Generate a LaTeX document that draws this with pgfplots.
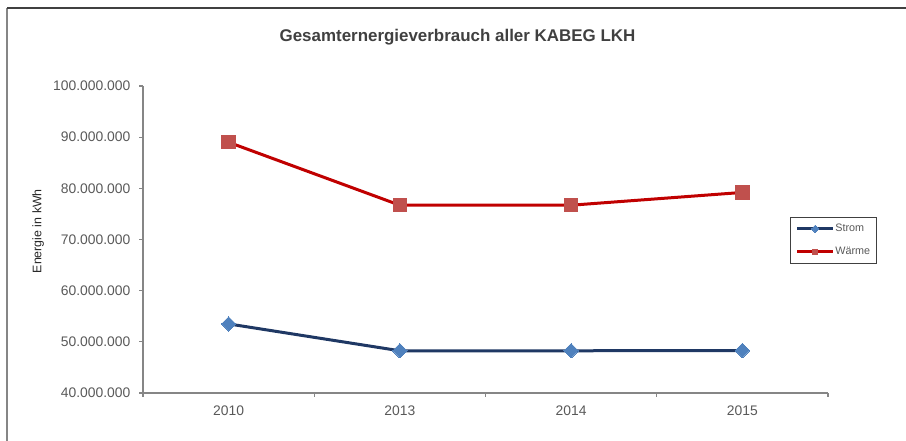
\documentclass[border=0pt]{standalone}
\usepackage{fontspec}
\setmainfont{Liberation Sans}
\usepackage{pgfplots}
\pgfplotsset{compat=1.18}
\definecolor{stromline}{HTML}{1F3864}
\definecolor{strommark}{HTML}{4F81BD}
\definecolor{waermeline}{HTML}{C00000}
\definecolor{waermemark}{HTML}{C0504D}
\definecolor{txt}{HTML}{595959}
\definecolor{titlec}{HTML}{404040}
\definecolor{axisgray}{HTML}{868686}
\begin{document}
\begin{tikzpicture}[x=0.75pt,y=0.75pt]
\useasboundingbox (0,0) rectangle (906,441);
\draw[color=axisgray, line width=1.3pt] (7,-10) -- (7,433);
\draw[color=titlec, line width=1.3pt] (7,433) -- (920,433);
\node[font=\bfseries\fontsize{12.7}{15}\selectfont, text=titlec] at (457.5,404) {Gesamternergieverbrauch aller KABEG LKH};
\begin{axis}[
  at={(107.25pt,36pt)}, anchor=south west,
  scale only axis,
  width=513.75pt, height=230.25pt,
  xmin=-0.5, xmax=3.5,
  ymin=40000000, ymax=100000000,
  axis x line=bottom, axis y line=left,
  axis line style={-, draw=axisgray, line width=0.8pt},
  tick align=outside,
  major tick length=3pt,
  tick style={draw=axisgray, line width=0.8pt},
  xtick={-0.5,0.5,1.5,2.5,3.5},
  xticklabels={},
  extra x ticks={0,1,2,3},
  extra x tick labels={2010,2013,2014,2015},
  extra x tick style={major tick length=0pt, tick label style={yshift=-6pt}},
  ytick={40000000,50000000,60000000,70000000,80000000,90000000,100000000},
  scaled y ticks=false,
  yticklabel style={/pgf/number format/.cd, fixed, 1000 sep={.}, assume math mode=true, /tikz/.cd, xshift=-3pt},
  xticklabel style={/pgf/number format/assume math mode=true},
  tick label style={font=\fontsize{10.4}{12}\selectfont, text=txt},
  ylabel={Energie in kWh},
  ylabel style={at={(axis description cs:-0.153,0.527)}, anchor=center, font=\fontsize{9.3}{11}\selectfont, text=black!85},
  legend style={at={(axis description cs:0.9445,0.573)}, anchor=north west,
    draw=black!75, line width=0.6pt, font=\fontsize{8.1}{9}\selectfont, text=txt,
    row sep=6pt, inner xsep=4pt, inner ysep=3pt,
    nodes={inner xsep=0.5pt}},
  legend cell align=left,
  legend image code/.code={
    \draw[#1, mark size=2pt, mark repeat=2, mark phase=2] plot coordinates {(0pt,0pt) (13.5pt,0pt) (27pt,0pt)};
  },
  clip=false,
]
\addplot[color=stromline, line width=2.25pt, mark=square*, mark size=3.8pt,
  mark options={rotate=45, fill=strommark, draw=strommark, line width=0pt}]
  coordinates {(0,53500000) (1,48250000) (2,48250000) (3,48300000)};
\addlegendentry{Strom}
\addplot[color=waermeline, line width=2.25pt, mark=square*, mark size=5pt,
  mark options={fill=waermemark, draw=waermemark, line width=0pt}]
  coordinates {(0,89000000) (1,76700000) (2,76700000) (3,79200000)};
\addlegendentry{Wärme}
\end{axis}
\end{tikzpicture}
\end{document}
